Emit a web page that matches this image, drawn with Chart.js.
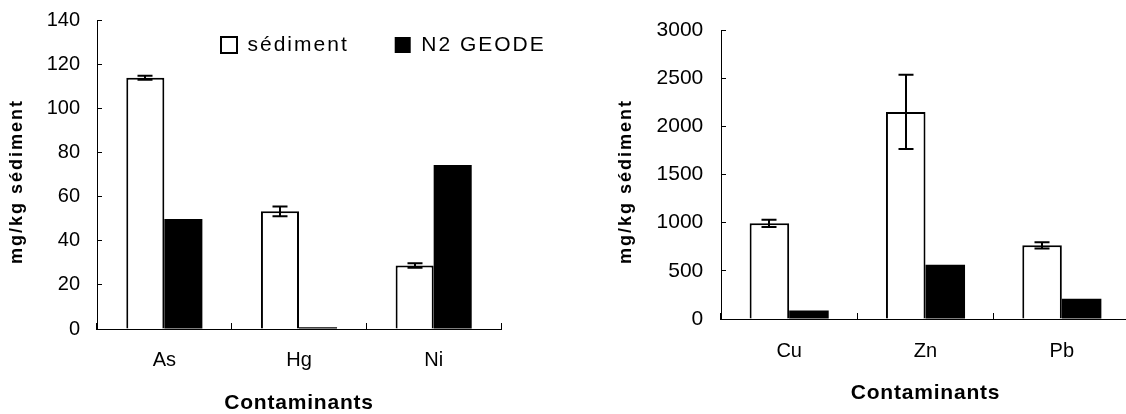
<!DOCTYPE html>
<html><head><meta charset="utf-8">
<script src="https://cdn.jsdelivr.net/npm/chart.js@4/dist/chart.umd.min.js"></script>
<style>
html,body{margin:0;padding:0;background:#fff;width:1126px;height:414px;overflow:hidden;}
#wrap{position:relative;width:1126px;height:414px;overflow:hidden;background:#fff;}
#c1{position:absolute;left:0;top:0;}
#c2{position:absolute;left:600px;top:0;}
</style></head><body>
<div id="wrap"><canvas id="c1" width="560" height="414"></canvas><canvas id="c2" width="540" height="414"></canvas></div>
<script>
// ---- data ----
const seriesNames = ['sédiment', 'N2 GEODE'];
const categoriesA = ['As', 'Hg', 'Ni'];
const sedimentA = [113.8, 53.3, 28.8];
const sedimentErrA = [0.9, 2.2, 1.0];
const geodeA = [49.8, 0.8, 74.3];
const categoriesB = ['Cu', 'Zn', 'Pb'];
const sedimentB = [993, 2150, 765];
const sedimentErrB = [38, 385, 32];
const geodeB = [87, 563, 210];
const yMaxA = 140, yStepA = 20;
const yMaxB = 3000, yStepB = 500;
const xTitle = 'Contaminants';
const yTitle = 'mg/kg sédiment';

Chart.defaults.font.family = "'Liberation Sans', Arial, sans-serif";
Chart.defaults.color = '#000';

const errorBarPlugin = {
  id: 'errorBars',
  afterDatasetsDraw(chart, args, opts) {
    const meta = chart.getDatasetMeta(0);
    const ys = chart.scales.y;
    const ctx = chart.ctx;
    const vals = chart.data.datasets[0].data;
    ctx.save();
    ctx.strokeStyle = '#000';
    ctx.lineWidth = 2;
    meta.data.forEach((bar, i) => {
      const e = opts.errors[i];
      if (!e) return;
      const x = Math.round(bar.x);
      const yT = ys.getPixelForValue(vals[i] + e);
      const yB = ys.getPixelForValue(vals[i] - e);
      ctx.beginPath();
      ctx.moveTo(x, yT); ctx.lineTo(x, yB);
      ctx.moveTo(x - 7.5, yT); ctx.lineTo(x + 7.5, yT);
      ctx.moveTo(x - 7.5, yB); ctx.lineTo(x + 7.5, yB);
      ctx.stroke();
    });
    ctx.restore();
  }
};

const stylePlugin = {
  id: 'textStyle',
  beforeDraw(chart, args, opts) {
    const ctx = chart.ctx;
    const ys = chart.scales.y, xs = chart.scales.x;
    if (!ys._wrapped) {
      const orig = ys.drawTitle.bind(ys);
      ys.drawTitle = function () {
        ctx.save(); ctx.letterSpacing = opts.yTitleSpacing; ctx.translate(0, opts.yTitleShift); orig(); ctx.restore();
      };
      ys._wrapped = true;
    }
    if (!xs._wrapped) {
      const orig = xs.drawTitle.bind(xs);
      xs.drawTitle = function () {
        ctx.save(); ctx.letterSpacing = opts.xTitleSpacing; orig(); ctx.restore();
      };
      xs._wrapped = true;
    }
    const lg = chart.legend;
    if (lg && opts.legend && !lg._wrapped) {
      const origL = lg.draw.bind(lg);
      lg.draw = function () {
        const pad = lg.options.labels.padding;
        lg.left = opts.legend.x - pad; lg.width = 600; lg.right = lg.left + 600;
        lg.top = opts.legend.y - pad; lg.height = 120; lg.bottom = lg.top + 120;
        ctx.save(); ctx.letterSpacing = opts.legend.spacing; origL(); ctx.restore();
      };
      lg._wrapped = true;
    }
  }
};

function makeChart(canvas, cats, sed, err, geo, yMax, yStep, g) {
  return new Chart(canvas, {
    type: 'bar',
    data: {
      labels: cats,
      datasets: [
        { label: seriesNames[0], data: sed, backgroundColor: '#ffffff', borderColor: '#000000', borderWidth: 2,
          barPercentage: 1, categoryPercentage: g.catPct },
        { label: seriesNames[1], data: geo, backgroundColor: '#000000', borderColor: '#000000', borderWidth: 0,
          barPercentage: 1, categoryPercentage: g.catPct }
      ]
    },
    options: {
      responsive: false,
      animation: false,
      devicePixelRatio: 1,
      layout: { padding: g.padding },
      plugins: {
        tooltip: { enabled: false },
        legend: {
          display: g.legend,
          position: 'top',
          align: 'start',
          maxHeight: 1,
          labels: { boxWidth: 16, boxHeight: 16, padding: 46, color: '#000', font: { size: 21 } }
        },
        errorBars: { errors: err },
        textStyle: {
          yTitleSpacing: '2px', yTitleShift: 7, xTitleSpacing: '0.8px',
          legend: g.legend ? { x: 221, y: 34.5, spacing: '2px' } : null
        }
      },
      scales: {
        x: {
          offset: true,
          grid: { display: true, drawOnChartArea: false, drawTicks: true, tickLength: -6, offset: true,
                  color: '#000', tickColor: '#000', lineWidth: 1, tickWidth: 1 },
          border: { display: true, color: '#000', width: 1 },
          ticks: { padding: g.xTickPad, font: { size: 20 }, color: '#000', maxRotation: 0, autoSkip: false },
          title: { display: true, text: xTitle, color: '#000',
                   font: { size: 21, weight: 'bold', lineHeight: 1 }, padding: { top: 0, bottom: g.xTitlePad } },
          afterFit(s) { s.height = g.xHeight; s.paddingLeft = 0; s.paddingRight = 0; }
        },
        y: {
          min: 0, max: yMax,
          grid: { display: true, drawOnChartArea: false, drawTicks: true, tickLength: -5,
                  color: '#000', tickColor: '#000', lineWidth: 1, tickWidth: 1 },
          border: { display: true, color: '#000', width: 1 },
          ticks: { stepSize: yStep, padding: g.yTickPad, font: { size: g.yTickSize }, color: '#000',
                   callback: (v) => String(v) },
          title: { display: true, text: yTitle, color: '#000',
                   font: { size: 18, weight: 'bold', lineHeight: 1.2 }, padding: { top: g.yTitlePad, bottom: 0 } },
          afterFit(s) { s.width = g.yWidth; s.paddingTop = 0; s.paddingBottom = 0; }
        }
      }
    },
    plugins: [errorBarPlugin, stylePlugin]
  });
}

makeChart(document.getElementById('c1'), categoriesA, sedimentA, sedimentErrA, geodeA, yMaxA, yStepA, {
  legend: true, catPct: 0.565,
  padding: { left: 0, top: 19, right: 59, bottom: 0 },
  yWidth: 97, xHeight: 85, yTickPad: 22, xTickPad: 25, yTitlePad: 5.9, xTitlePad: 0.5, yTickSize: 20
});
makeChart(document.getElementById('c2'), categoriesB, sedimentB, sedimentErrB, geodeB, yMaxB, yStepB, {
  legend: false, catPct: 0.58,
  padding: { left: 0, top: 30, right: 10, bottom: 0 },
  yWidth: 121, xHeight: 95, yTickPad: 22.7, xTickPad: 26.7, yTitlePad: 15, xTitlePad: 10.2, yTickSize: 21
});
</script>
</body></html>
